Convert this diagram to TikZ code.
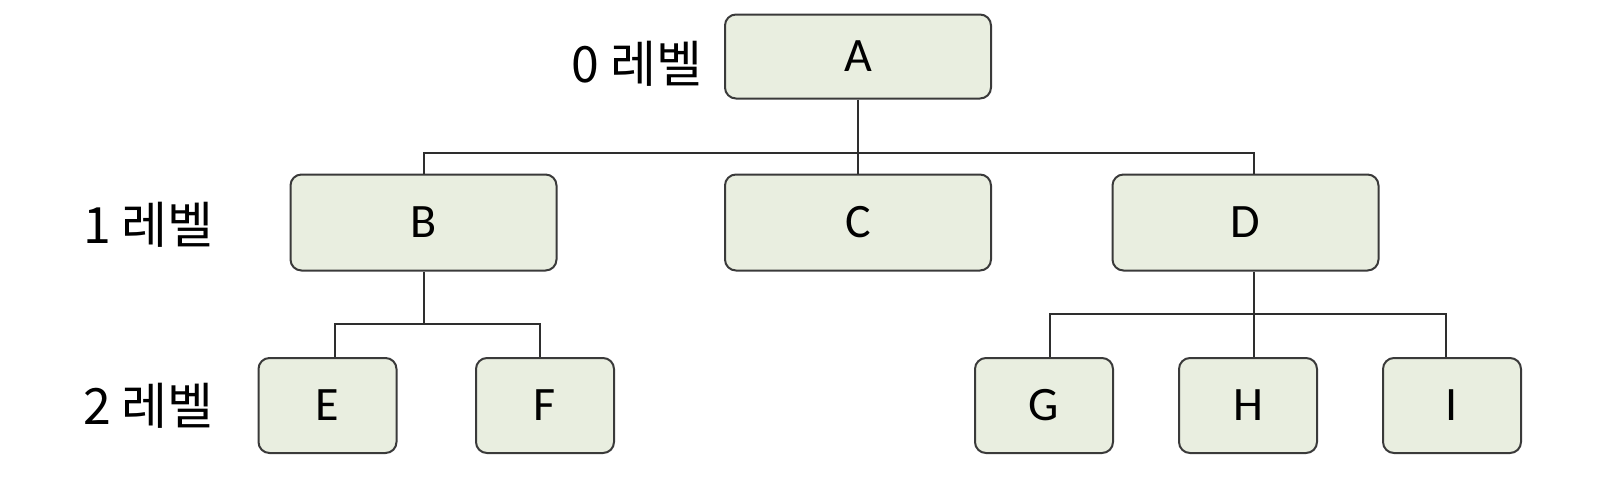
\documentclass[tikz,border=0pt]{standalone}
\usepackage{fontspec}
\setmainfont{Carlito}
\newfontfamily\krfont{Noto Sans CJK KR}
\usetikzlibrary{calc}
\definecolor{boxfill}{HTML}{E9EEE0}
\definecolor{boxline}{HTML}{3A3A3A}
\definecolor{conn}{HTML}{2E2E2E}
\begin{document}
\begin{tikzpicture}[x=1pt,y=1pt,
  tbox/.style={draw=boxline,fill=boxfill,line width=2pt,rounded corners=11pt,
    inner sep=0pt,font=\fontsize{48}{52}\selectfont},
  wide/.style={tbox,minimum width=266pt},
  narrow/.style={tbox,minimum width=138pt,minimum height=95pt},
  lvl/.style={font=\krfont\fontsize{50}{54}\selectfont,inner sep=0pt},
  conline/.style={draw=conn,line width=2pt}]
\useasboundingbox (0,0) rectangle (1624,-490);
\node[wide,minimum height=84pt] (A) at (858,-56.5) {A};
\node[wide,minimum height=96pt] (B) at (423.5,-222.5) {B};
\node[wide,minimum height=96pt] (C) at (858,-222.5) {C};
\node[wide,minimum height=96pt] (D) at (1245.5,-222.5) {D};
\node[narrow] (E) at (327.5,-405.5) {E};
\node[narrow] (F) at (545,-405.5) {F};
\node[narrow] (G) at (1044,-405.5) {G};
\node[narrow] (H) at (1248,-405.5) {H};
\node[narrow] (I) at (1452,-405.5) {I};
\node[lvl] (L0) at (637,-64) {0 레벨};
\node[lvl] (L1) at (148.5,-225) {1 레벨};
\node[lvl] (L2) at (148.5,-406) {2 레벨};
\coordinate (bus1) at (858,-152.7);
\coordinate (bus2) at (423.5,-324.3);
\coordinate (bus3) at (1254,-314.3);
\draw[conline] (A.south) -- (C.north);
\draw[conline] (B.north) |- (bus1) -| ([xshift=8.5pt]D.north);
\draw[conline] (B.south) -- (bus2);
\draw[conline] ([xshift=7.5pt]E.north) |- (bus2) -| ([xshift=-5.5pt]F.north);
\draw[conline] ([xshift=8.5pt]D.south) -- ([xshift=6pt]H.north);
\draw[conline] ([xshift=6pt]G.north) |- (bus3) -| ([xshift=-6pt]I.north);
\end{tikzpicture}
\end{document}
